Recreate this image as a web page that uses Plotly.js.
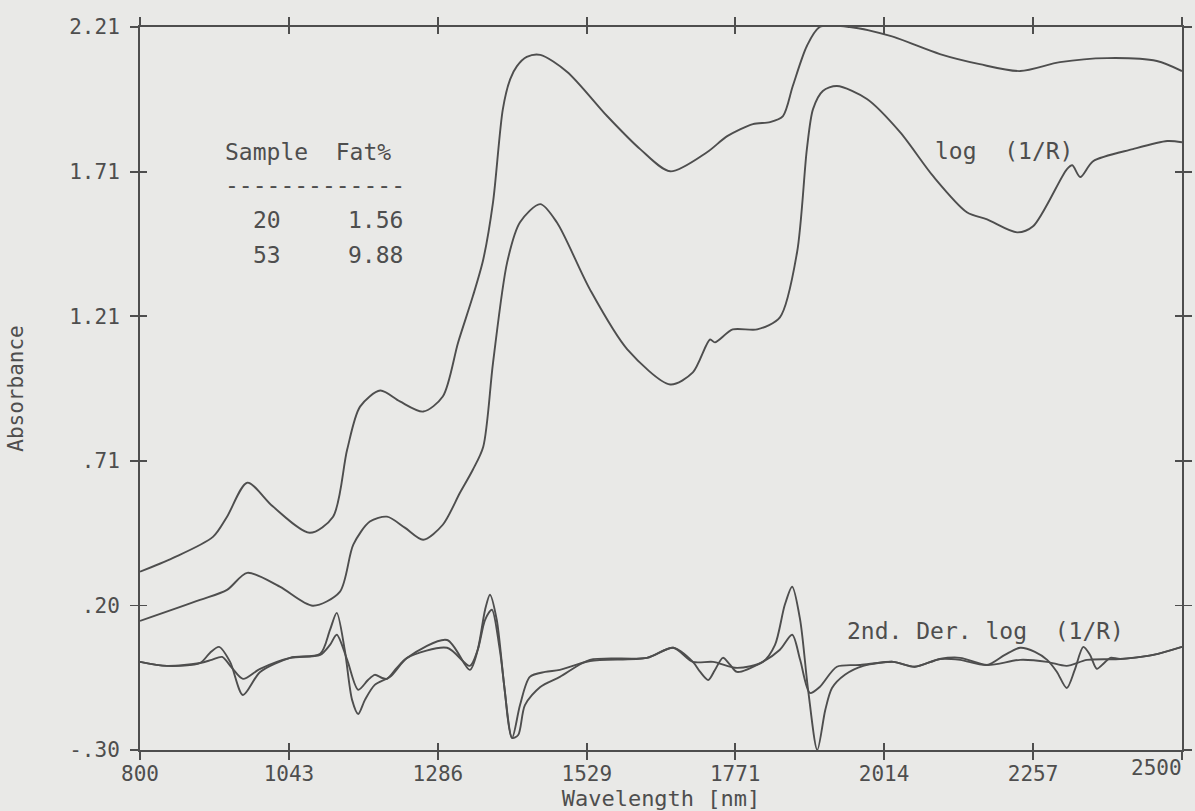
<!DOCTYPE html>
<html>
<head>
<meta charset="utf-8">
<script src="https://cdn.plot.ly/plotly-3.0.1.min.js"></script>
<style>
  html, body { margin: 0; padding: 0; background: #e9e9e7; }
  #chart { width: 1195px; height: 811px; }
</style>
</head>
<body>
<div id="chart"></div>
<script>
// ---- Data ----
// log(1/R) spectrum, sample 20 (Fat 1.56 %)
const wlLog20 = [800, 854, 919, 942, 975, 1017, 1077, 1115, 1138, 1159, 1192, 1224, 1262, 1294, 1319, 1343, 1360, 1376, 1392, 1404, 1415, 1431, 1453, 1497, 1562, 1616, 1665, 1725, 1758, 1800, 1828, 1849, 1865, 1888, 1909, 1958, 2024, 2105, 2170, 2236, 2301, 2378, 2459, 2500];
const absLog20 = [0.319, 0.367, 0.440, 0.510, 0.628, 0.545, 0.454, 0.510, 0.743, 0.892, 0.948, 0.910, 0.875, 0.927, 1.115, 1.275, 1.403, 1.602, 1.925, 2.029, 2.074, 2.106, 2.113, 2.054, 1.901, 1.786, 1.709, 1.775, 1.831, 1.873, 1.880, 1.901, 2.005, 2.144, 2.210, 2.210, 2.179, 2.116, 2.081, 2.057, 2.088, 2.102, 2.092, 2.057];

// log(1/R) spectrum, sample 53 (Fat 9.88 %)
const wlLog53 = [800, 898, 942, 975, 1028, 1082, 1126, 1148, 1175, 1203, 1232, 1262, 1294, 1322, 1343, 1360, 1376, 1399, 1420, 1453, 1480, 1534, 1595, 1665, 1702, 1730, 1738, 1767, 1807, 1844, 1872, 1888, 1898, 1914, 1937, 1986, 2040, 2094, 2149, 2182, 2231, 2257, 2312, 2321, 2334, 2355, 2420, 2476, 2500];
const absLog53 = [0.148, 0.221, 0.256, 0.315, 0.267, 0.201, 0.249, 0.413, 0.493, 0.510, 0.472, 0.430, 0.482, 0.593, 0.673, 0.753, 1.045, 1.393, 1.532, 1.595, 1.532, 1.299, 1.091, 0.969, 1.011, 1.125, 1.115, 1.160, 1.160, 1.202, 1.428, 1.786, 1.925, 1.988, 2.005, 1.960, 1.845, 1.692, 1.567, 1.542, 1.497, 1.518, 1.716, 1.730, 1.689, 1.744, 1.786, 1.814, 1.810];

// 2nd derivative log(1/R), sample 20 (offset, plotted on the same scale)
const wlDer20 = [800, 844, 898, 914, 929, 947, 968, 996, 1045, 1094, 1110, 1121, 1134, 1146, 1156, 1167, 1183, 1208, 1236, 1301, 1338, 1351, 1363, 1371, 1382, 1395, 1407, 1417, 1428, 1453, 1485, 1534, 1627, 1670, 1702, 1735, 1774, 1816, 1836, 1852, 1864, 1877, 1890, 1905, 1918, 1929, 1950, 1980, 2029, 2064, 2105, 2138, 2182, 2236, 2280, 2312, 2345, 2399, 2453, 2500];
const valDer20 = [0.006, -0.008, 0.002, 0.037, 0.058, 0.006, -0.109, -0.029, 0.020, 0.034, 0.117, 0.176, 0.048, -0.126, -0.175, -0.126, -0.074, -0.046, 0.020, 0.082, -0.022, 0.048, 0.187, 0.239, 0.152, -0.091, -0.258, -0.248, -0.144, -0.081, -0.046, 0.013, 0.020, 0.055, 0.006, 0.006, -0.015, 0.006, 0.065, 0.204, 0.267, 0.152, -0.091, -0.300, -0.161, -0.085, -0.039, -0.008, 0.006, -0.011, 0.016, 0.020, -0.005, 0.013, 0.006, -0.008, 0.013, 0.016, 0.030, 0.058];

// 2nd derivative log(1/R), sample 53
const wlDer53 = [800, 844, 898, 917, 934, 950, 968, 996, 1045, 1094, 1110, 1121, 1138, 1156, 1172, 1183, 1195, 1203, 1219, 1236, 1301, 1338, 1351, 1363, 1374, 1387, 1407, 1420, 1436, 1461, 1485, 1534, 1627, 1670, 1702, 1714, 1727, 1738, 1751, 1763, 1774, 1816, 1844, 1864, 1877, 1893, 1909, 1937, 1975, 2029, 2064, 2105, 2138, 2182, 2211, 2236, 2260, 2280, 2296, 2312, 2325, 2339, 2350, 2361, 2373, 2383, 2399, 2453, 2500];
const valDer53 = [0.006, -0.008, 0.002, 0.013, 0.023, -0.015, -0.053, -0.018, 0.020, 0.030, 0.065, 0.100, 0.013, -0.091, -0.057, -0.039, -0.050, -0.053, -0.015, 0.020, 0.055, -0.008, 0.048, 0.152, 0.187, 0.048, -0.258, -0.144, -0.046, -0.029, -0.022, 0.009, 0.020, 0.055, 0.006, -0.029, -0.057, -0.022, 0.020, -0.005, -0.029, 0.006, 0.048, 0.100, 0.013, -0.102, -0.081, -0.011, -0.005, 0.006, -0.011, 0.016, 0.013, -0.005, 0.030, 0.055, 0.041, 0.013, -0.029, -0.085, -0.022, 0.058, 0.030, -0.018, 0.002, 0.020, 0.016, 0.030, 0.058];

// Axis ticks
const xTickVals = [800, 1043, 1286, 1529, 1771, 2014, 2257, 2500];
const xTickText = ['800', '1043', '1286', '1529', '1771', '2014', '2257', '2500'];
const yTickVals = [-0.30, 0.202, 0.704, 1.206, 1.708, 2.21];
const yTickText = ['-.30', '.20', '.71', '1.21', '1.71', '2.21'];

// Inset table
const tableSamples = ['20', '53'];
const tableFat = ['1.56', '9.88'];

// ---- Plot ----
const ink = '#4e4e4e';
const mono = 'DejaVu Sans Mono, monospace';

function curve(x, y, name) {
  return {
    x: x, y: y, name: name, type: 'scatter', mode: 'lines',
    line: { color: ink, width: 1.9, shape: 'spline', smoothing: 0.8 },
    hoverinfo: 'x+y+name', showlegend: false, cliponaxis: true
  };
}

const traces = [
  curve(wlLog20, absLog20, 'log(1/R) sample 20'),
  curve(wlLog53, absLog53, 'log(1/R) sample 53'),
  curve(wlDer20, valDer20, '2nd der. sample 20'),
  curve(wlDer53, valDer53, '2nd der. sample 53'),
  { x: [], y: [], xaxis: 'x2', yaxis: 'y2', type: 'scatter', mode: 'lines', showlegend: false, hoverinfo: 'skip' }
];

const xRange = [800, 2500];
const yRange = [-0.30, 2.21];

// The last x tick label sits inside the right edge in the reference, so it is drawn as an annotation.
const nTicks = xTickVals.length;
const shownTickText = xTickText.map((t, i) => (i === nTicks - 1 ? '' : t));

const annFont = { family: mono, size: 23, color: ink };
const annotations = [
  { x: 935, y: 1.775, text: 'Sample  Fat%', xanchor: 'left', yanchor: 'middle' },
  { x: 935, y: 1.660, text: '-------------', xanchor: 'left', yanchor: 'middle' },
  { x: 1033, y: 1.539, text: tableSamples[0], xanchor: 'right', yanchor: 'middle' },
  { x: 1232, y: 1.539, text: tableFat[0], xanchor: 'right', yanchor: 'middle' },
  { x: 1033, y: 1.417, text: tableSamples[1], xanchor: 'right', yanchor: 'middle' },
  { x: 1232, y: 1.417, text: tableFat[1], xanchor: 'right', yanchor: 'middle' },
  { x: 2094, y: 1.779, text: 'log  (1/R)', xanchor: 'left', yanchor: 'middle' },
  { x: 1950, y: 0.114, text: '2nd. Der. log  (1/R)', xanchor: 'left', yanchor: 'middle' }
].map(a => Object.assign({ xref: 'x', yref: 'y', showarrow: false, font: annFont }, a));

annotations.push({
  x: xTickVals[nTicks - 1], xref: 'x', xanchor: 'right', xshift: 2,
  y: 0, yref: 'paper', yanchor: 'top', yshift: -4,
  text: xTickText[nTicks - 1], showarrow: false,
  font: { family: mono, size: 21, color: ink }
});

const layout = {
  width: 1195, height: 811,
  paper_bgcolor: '#e9e9e7', plot_bgcolor: '#e9e9e7',
  margin: { l: 140, r: 13, t: 27, b: 61, pad: 0 },
  showlegend: false,
  xaxis: {
    range: xRange, tickvals: xTickVals, ticktext: shownTickText,
    ticks: 'outside', ticklen: 8, tickwidth: 1.8, tickcolor: ink,
    showline: true, linecolor: ink, linewidth: 2, mirror: 'allticks',
    showgrid: false, zeroline: false,
    tickfont: { family: mono, size: 21, color: ink },
    ticklabelstandoff: -4,
    title: { text: 'Wavelength [nm]', font: { family: mono, size: 22, color: ink }, standoff: 12 },
    automargin: false
  },
  yaxis: {
    range: yRange, tickvals: yTickVals, ticktext: yTickText,
    ticks: 'outside', ticklen: 8, tickwidth: 1.8, tickcolor: ink,
    showline: true, linecolor: ink, linewidth: 2, mirror: 'allticks',
    showgrid: false, zeroline: false,
    tickfont: { family: mono, size: 21, color: ink },
    ticklabelstandoff: 6,
    title: { text: 'Absorbance', font: { family: mono, size: 21, color: ink }, standoff: 40 },
    automargin: false
  },
  xaxis2: {
    overlaying: 'x', range: xRange, tickvals: xTickVals, showticklabels: false,
    ticks: 'inside', ticklen: 7, tickwidth: 1.8, tickcolor: ink,
    showline: false, mirror: 'allticks', showgrid: false, zeroline: false
  },
  yaxis2: {
    overlaying: 'y', range: yRange, tickvals: yTickVals, showticklabels: false,
    ticks: 'inside', ticklen: 7, tickwidth: 1.8, tickcolor: ink,
    showline: false, mirror: 'allticks', showgrid: false, zeroline: false
  },
  annotations: annotations
};

Plotly.newPlot('chart', traces, layout, { displayModeBar: false, staticPlot: true });
</script>
</body>
</html>
